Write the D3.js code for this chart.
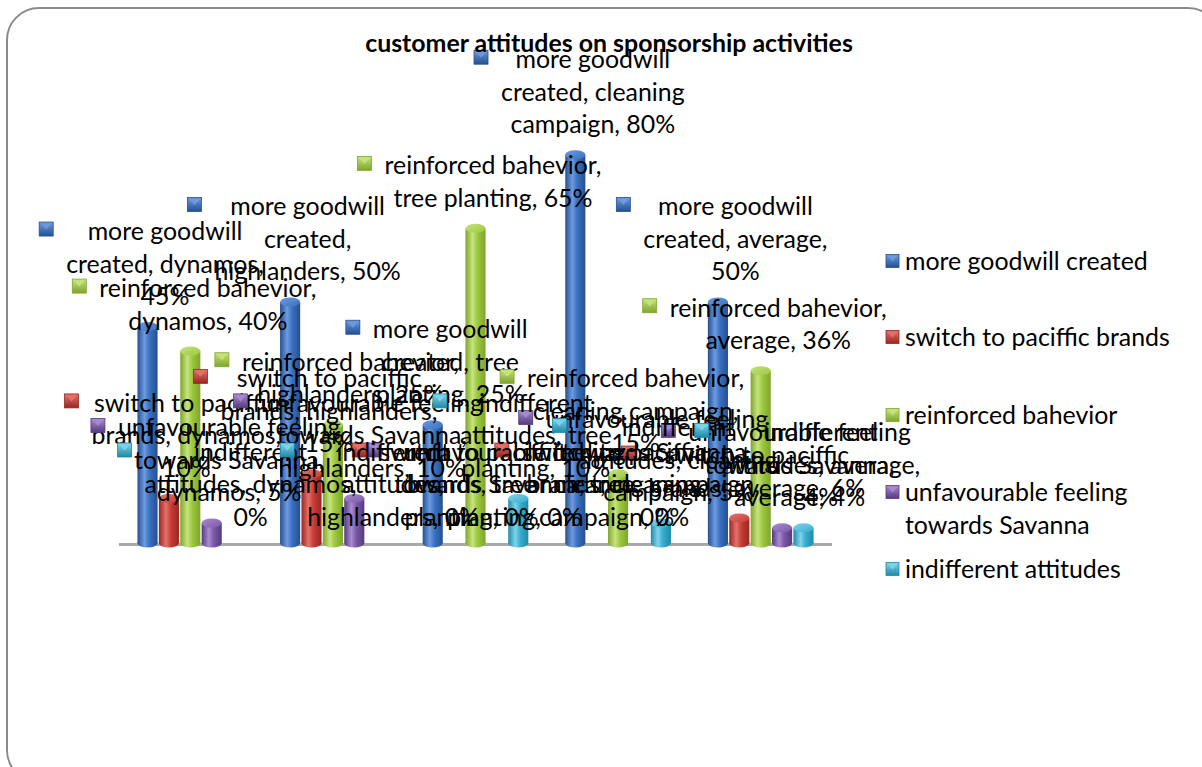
<!DOCTYPE html>
<html>
<head>
<meta charset="utf-8">
<script src="https://cdn.jsdelivr.net/npm/d3@7"></script>
<style>
html,body{margin:0;padding:0;background:#fff;}
svg{display:block;}
text{font-family:Lato,"Open Sans",sans-serif;fill:#000;}
</style>
</head>
<body>
<svg id="chart" width="1202" height="767"></svg>
<script>
// ---------- data ----------
const title = "customer attitudes on sponsorship activities";
const categories = ["dynamos", "highlanders", "tree planting", "cleaning campaign", "average"];
const seriesNames = ["more goodwill created", "switch to paciffic brands", "reinforced bahevior",
                     "unfavourable feeling towards Savanna", "indifferent attitudes"];
const goodwill     = [45, 50, 25, 80, 50];
const switchBrands = [10, 15, 0, 0, 6];
const reinforced   = [40, 25, 65, 15, 36];
const unfavourable = [5, 10, 0, 0, 4];
const indifferent  = [0, 0, 10, 5, 4];
// words per wrapped line for each data label (series x category)
const wrapGoodwill     = [[2,2,1],[2,1,2],[2,2,2],[2,2,2],[2,2,1]];
const wrapSwitch       = [[3,2,1],[3,2,1],[3,2,2],[3,2,2],[3,3]];
const wrapReinforced   = [[2,2],[2,2],[2,3],[2,2,1],[2,2]];
const wrapUnfavourable = [[2,2,2],[2,2,2],[2,3,2],[2,2,2,1],[2,2,2]];
const wrapIndifferent  = [[1,2,1],[1,1,2],[1,2,2],[1,2,2],[1,2,1]];
const legendLines = [["more goodwill created"], ["switch to paciffic brands"], ["reinforced bahevior"],
                     ["unfavourable feeling", "towards Savanna"], ["indifferent attitudes"]];

const seriesValues = [goodwill, switchBrands, reinforced, unfavourable, indifferent];
const seriesWraps = [wrapGoodwill, wrapSwitch, wrapReinforced, wrapUnfavourable, wrapIndifferent];

// ---------- styles ----------
const palette = [
  {dark:"#24508f", mid:"#3a70c0", light:"#6d9be0", top:"#5f90d8"},
  {dark:"#9a2622", mid:"#c63c36", light:"#e4726b", top:"#d9605a"},
  {dark:"#7ea52b", mid:"#9cc83f", light:"#c6e47e", top:"#b5d86a"},
  {dark:"#553a80", mid:"#7b58a8", light:"#a98bd0", top:"#9477c0"},
  {dark:"#1f8aa8", mid:"#38add0", light:"#7fd4ea", top:"#66c8e2"}
];

const svg = d3.select("#chart");
const defs = svg.append("defs");

palette.forEach((p, i) => {
  const g = defs.append("linearGradient").attr("id", "cyl" + i).attr("x1", 0).attr("x2", 1).attr("y1", 0).attr("y2", 0);
  g.append("stop").attr("offset", "0%").attr("stop-color", p.dark);
  g.append("stop").attr("offset", "35%").attr("stop-color", p.light);
  g.append("stop").attr("offset", "60%").attr("stop-color", p.mid);
  g.append("stop").attr("offset", "100%").attr("stop-color", p.dark);
  const t = defs.append("linearGradient").attr("id", "cap" + i).attr("x1", 0).attr("x2", 1).attr("y1", 0).attr("y2", 1);
  t.append("stop").attr("offset", "0%").attr("stop-color", p.light);
  t.append("stop").attr("offset", "100%").attr("stop-color", p.mid);
  const m = defs.append("linearGradient").attr("id", "mk" + i).attr("x1", 0).attr("x2", 0).attr("y1", 0).attr("y2", 1);
  m.append("stop").attr("offset", "0%").attr("stop-color", p.light);
  m.append("stop").attr("offset", "100%").attr("stop-color", p.dark);
});

// frame
svg.append("rect").attr("x", 7).attr("y", 8).attr("width", 1213).attr("height", 774)
  .attr("rx", 32).attr("fill", "#fff").attr("stroke", "#8a8a8a").attr("stroke-width", 2);

// measure font sizes
const probe = svg.append("text").attr("font-size", 20).text(legendLines[0][0]);
const labelSize = 20 * 243 / probe.node().getComputedTextLength();
probe.attr("font-weight", "bold").text(title);
const titleSize = 20 * 488 / probe.node().getComputedTextLength();
probe.remove();

// ---------- scales ----------
const baseY = 543;
const x0 = d3.scaleBand().domain(categories).range([119, 832]).paddingInner(0.25).paddingOuter(0.125);
const x1 = d3.scaleBand().domain(d3.range(seriesNames.length)).range([0, x0.bandwidth()]);
const y = d3.scaleLinear().domain([0, 100]).range([baseY, baseY - 491]);

// floor line
svg.append("line").attr("x1", x0.range()[0]).attr("x2", x0.range()[1])
  .attr("y1", baseY + 1.5).attr("y2", baseY + 1.5).attr("stroke", "#a8a8a8").attr("stroke-width", 3);

// ---------- cylinders ----------
const ry = 4.5;
const bars = [];
seriesValues.forEach((vals, s) => {
  vals.forEach((v, c) => {
    bars.push({s, c, v, cx: x0(categories[c]) + x1(s) + x1.bandwidth() / 2});
  });
});
const bw = x1.bandwidth() * 0.94;
const barG = svg.append("g");
bars.filter(d => d.v > 0).forEach(d => {
  const top = y(d.v) + ry;
  barG.append("rect").attr("x", d.cx - bw / 2).attr("y", top).attr("width", bw)
    .attr("height", baseY - top).attr("fill", `url(#cyl${d.s})`);
  barG.append("ellipse").attr("cx", d.cx).attr("cy", baseY).attr("rx", bw / 2).attr("ry", ry)
    .attr("fill", `url(#cyl${d.s})`);
  barG.append("ellipse").attr("cx", d.cx).attr("cy", top).attr("rx", bw / 2).attr("ry", ry)
    .attr("fill", `url(#cap${d.s})`);
});

// marker drawing (bevelled square)
function marker(g, x, yc, size, s) {
  const p = palette[s];
  const mg = g.append("g");
  mg.append("rect").attr("x", x).attr("y", yc - size / 2).attr("width", size).attr("height", size)
    .attr("fill", `url(#mk${s})`).attr("stroke", p.dark).attr("stroke-width", 0.8);
  mg.append("path").attr("d", `M${x + 1.5},${yc - size / 2 + 1.5} L${x + size - 1.5},${yc - size / 2 + 1.5} L${x + size / 2},${yc + 0.5} Z`)
    .attr("fill", p.light).attr("opacity", 0.9);
}

// ---------- data labels ----------
const lineH = 32.5, mSize = 14, mGap = 13;
const labelG = svg.append("g");
bars.forEach(d => {
  const full = `${seriesNames[d.s]}, ${categories[d.c]}, ${d.v}%`;
  const words = full.split(" ");
  const counts = seriesWraps[d.s][d.c];
  const lines = [];
  let k = 0;
  counts.forEach(n => { lines.push(words.slice(k, k + n).join(" ")); k += n; });
  const g = labelG.append("g");
  const texts = lines.map(l => g.append("text").attr("font-size", labelSize).attr("text-anchor", "middle").text(l));
  const blockW = d3.max(texts, t => t.node().getComputedTextLength());
  const total = mSize + mGap + blockW;
  const left = d.cx + 4 - total / 2;
  const tcx = left + mSize + mGap + blockW / 2;
  const n = lines.length;
  texts.forEach((t, i) => {
    const cy = y(d.v) - 26 - (n - 1 - i) * lineH;
    t.attr("x", tcx).attr("y", cy + labelSize * 0.36);
  });
  marker(g, left, y(d.v) - 26 - (n - 1) * lineH - 2, mSize, d.s);
});

// ---------- title ----------
svg.append("text").attr("x", 609).attr("y", 52).attr("text-anchor", "middle")
  .attr("font-weight", "bold").attr("font-size", titleSize).text(title);

// ---------- legend ----------
const legendY = [261, 337, 415, 492, 569];
const legG = svg.append("g");
legendLines.forEach((ls, i) => {
  marker(legG, 886, legendY[i], 13, i);
  ls.forEach((l, j) => {
    legG.append("text").attr("x", 905).attr("y", legendY[i] + j * 33 + labelSize * 0.36)
      .attr("font-size", labelSize).text(l);
  });
});
</script>
</body>
</html>
